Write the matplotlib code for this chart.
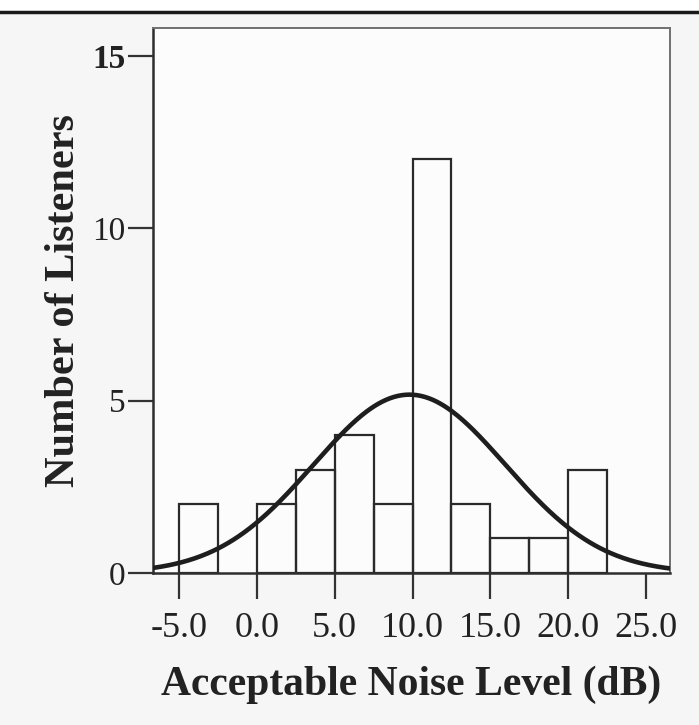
import numpy as np
from matplotlib import pyplot as plt
import matplotlib.lines as mlines
import matplotlib.patches as mpatches

# histogram data (bin edges and counts)
BIN_LEFT = [-5.0, 0.0, 2.5, 5.0, 7.5, 10.0, 12.5, 15.0, 17.5, 20.0]
BIN_COUNT = [2, 2, 3, 4, 2, 12, 2, 1, 1, 3]
BIN_WIDTH = 2.5

# fitted normal curve parameters
FIT_MEAN = 9.8
FIT_STD = 6.17
N_TOTAL = sum(BIN_COUNT)

X_TICKS = [-5.0, 0.0, 5.0, 10.0, 15.0, 20.0, 25.0]
Y_TICKS = [0, 5, 10, 15]

plt.rcParams['font.family'] = ['Liberation Serif', 'DejaVu Serif']

fig = plt.figure(figsize=(6.99, 7.25), dpi=100, facecolor='#f6f6f6')
ax = fig.add_axes([0.219, 0.2097, 0.7395, 0.7518])
ax.set_facecolor('#fcfcfc')

ax.bar(BIN_LEFT, BIN_COUNT, width=BIN_WIDTH, align='edge',
       facecolor='none', edgecolor='#2a2a2a', linewidth=1.6, zorder=2)

xs = np.linspace(-6.67, 26.54, 400)
pdf = np.exp(-0.5 * ((xs - FIT_MEAN) / FIT_STD) ** 2) / (FIT_STD * np.sqrt(2 * np.pi))
ax.plot(xs, pdf * N_TOTAL * BIN_WIDTH, color='#1e1e1e', linewidth=3.3, zorder=3)

ax.set_xlim(-6.67, 26.54)
ax.set_ylim(0, 15.81)
ax.set_xticks(X_TICKS)
ax.set_xticklabels([f"{v:.1f}" for v in X_TICKS])
ax.set_yticks(Y_TICKS)
ax.set_yticklabels([str(v) for v in Y_TICKS])
# the top label is printed bold in the original
ax.get_yticklabels()[-1].set_fontweight('bold')

ax.tick_params(axis='x', length=19, width=1.6, color='#333333', pad=9,
               labelsize=26, labelcolor='#222222')
ax.tick_params(axis='y', length=18, width=1.6, color='#333333', pad=2,
               labelsize=24, labelcolor='#222222')

for side in ['left', 'bottom']:
    ax.spines[side].set_color('#2e2e2e')
    ax.spines[side].set_linewidth(1.8)
for side in ['top', 'right']:
    ax.spines[side].set_color('#707070')
    ax.spines[side].set_linewidth(1.4)

ax.set_xlabel("Acceptable Noise Level (dB)", fontsize=30, fontweight='bold',
              color='#222222')
ax.set_ylabel("Number of Listeners", fontsize=30.5, fontweight='bold',
              color='#222222')
ax.xaxis.set_label_coords(0.5, -0.205)
ax.xaxis.label.set_va('center')
ax.yaxis.set_label_coords(-0.172, 0.5)
ax.yaxis.label.set_va('center')

# white strip and rule across the top of the figure
fig.add_artist(mpatches.Rectangle((0, 0.983), 1, 0.02, transform=fig.transFigure,
                                  facecolor='white', edgecolor='none'))
fig.add_artist(mlines.Line2D([0.0, 1.0], [0.983, 0.983], transform=fig.transFigure,
                             color='#1a1a1a', linewidth=2.5))

plt.savefig("out.png", dpi=100, facecolor=fig.get_facecolor())
